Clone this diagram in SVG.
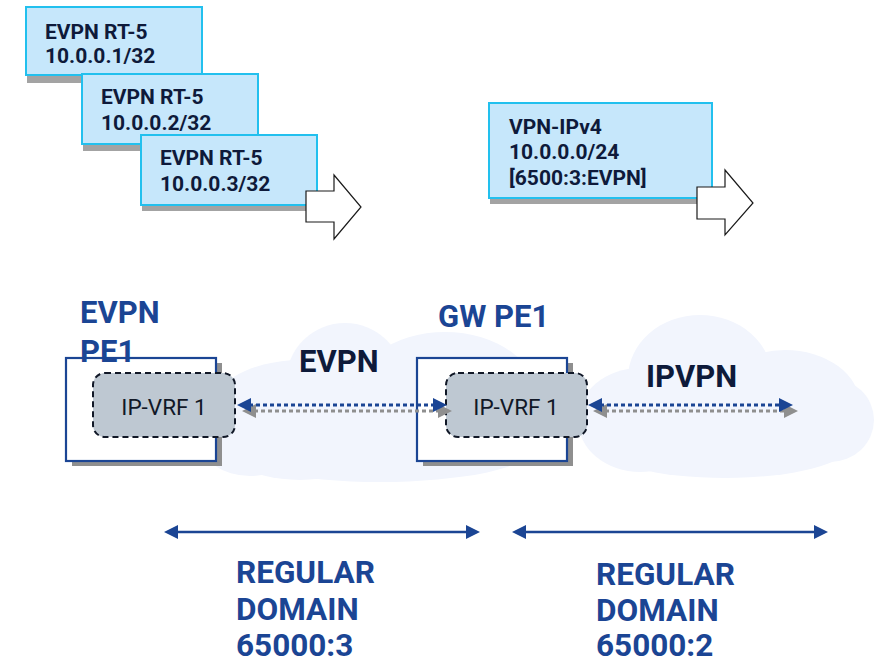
<svg xmlns="http://www.w3.org/2000/svg" width="877" height="663" viewBox="0 0 877 663">
<defs>
<style>
.box{fill:#c6e7fb;stroke:#22c0ee;stroke-width:2}
.bshadow{fill:#a3a3a3}
.bt{font-family:Roboto,"Liberation Sans",sans-serif;font-weight:bold;font-size:21px;fill:#0e1a3a}
.blk{fill:#ffffff;stroke:#1a1a1a;stroke-width:1.2}
.pe{fill:#ffffff;stroke:#1b4594;stroke-width:2.2}
.peshadow{fill:#8f8f8f}
.vrf{fill:#bec8d2;stroke:#111827;stroke-width:2;stroke-dasharray:6,4}
.vt{font-family:Roboto,"Liberation Sans",sans-serif;font-size:22.5px;fill:#111827}
.lbl{font-family:Roboto,"Liberation Sans",sans-serif;font-weight:bold;font-size:31px;fill:#1b4594}
.dom{font-family:Roboto,"Liberation Sans",sans-serif;font-weight:bold;font-size:31.5px;fill:#1b4594}
.prot{font-family:Roboto,"Liberation Sans",sans-serif;font-weight:bold;font-size:31px;fill:#0e1a3a}
.cloud{fill:#f2f5fd}
.dl{stroke:#1b4594;stroke-width:3;stroke-dasharray:4,3;fill:none}
.ds{stroke:#8f8f8f;stroke-width:3;stroke-dasharray:4,3;fill:none}
.ah{fill:#1b4594}
.ahs{fill:#8f8f8f}
.sl{stroke:#1b4594;stroke-width:2.5;fill:none}
</style>
</defs>
<rect width="877" height="663" fill="#ffffff"/>

<g id="clouds">
<ellipse class="cloud" cx="300" cy="420" rx="95" ry="60"/>
<circle class="cloud" cx="345" cy="382" r="59"/>
<ellipse class="cloud" cx="445" cy="402" rx="95" ry="70"/>
<ellipse class="cloud" cx="380" cy="450" rx="150" ry="32"/>
<ellipse class="cloud" cx="250" cy="440" rx="50" ry="36"/>
<ellipse class="cloud" cx="700" cy="378" rx="72" ry="63"/>
<ellipse class="cloud" cx="785" cy="405" rx="75" ry="55"/>
<ellipse class="cloud" cx="640" cy="420" rx="62" ry="52"/>
<ellipse class="cloud" cx="830" cy="420" rx="44" ry="42"/>
<ellipse class="cloud" cx="725" cy="445" rx="125" ry="33"/>
</g>

<g id="rt5-1">
<rect class="bshadow" x="27" y="13" width="176" height="70"/>
<rect class="box" x="26" y="7" width="176" height="68"/>
<text class="bt" x="45" y="39">EVPN RT-5</text>
<text class="bt" x="45" y="63">10.0.0.1/32</text>
</g>
<g id="rt5-2">
<rect class="bshadow" x="83" y="81" width="176" height="70"/>
<rect class="box" x="82" y="74" width="176" height="70"/>
<text class="bt" x="101" y="104">EVPN RT-5</text>
<text class="bt" x="101" y="130">10.0.0.2/32</text>
</g>
<g id="rt5-3">
<rect class="bshadow" x="142" y="141" width="176" height="70"/>
<rect class="box" x="141" y="135" width="176" height="70"/>
<text class="bt" x="160" y="165">EVPN RT-5</text>
<text class="bt" x="160" y="191">10.0.0.3/32</text>
</g>
<g id="arrow-1">
<polygon class="blk" points="306,191 334,191 334,175 361,207 334,239 334,222 306,222"/>
</g>

<g id="vpn-ipv4">
<rect class="bshadow" x="490" y="109" width="223" height="95"/>
<rect class="box" x="489" y="103" width="223" height="95"/>
<text class="bt" x="509" y="134">VPN-IPv4</text>
<text class="bt" x="509" y="159">10.0.0.0/24</text>
<text class="bt" x="509" y="185">[6500:3:EVPN]</text>
</g>
<g id="arrow-2">
<polygon class="blk" points="697,187 725,187 725,170 753,203 725,235 725,219 697,219"/>
</g>

<g id="evpn-pe1">
<rect class="peshadow" x="72" y="363" width="150" height="103"/>
<rect class="pe" x="66" y="358" width="150" height="103"/>
<text class="lbl" x="80" y="323">EVPN</text>
<text class="lbl" x="80" y="362">PE1</text>
<rect class="vrf" x="93" y="373" width="142" height="64" rx="12"/>
<text class="vt" x="164" y="415" text-anchor="middle">IP-VRF 1</text>
</g>

<g id="gw-pe1">
<rect class="peshadow" x="423" y="363" width="150" height="103"/>
<rect class="pe" x="417" y="358" width="150" height="103"/>
<text class="lbl" x="438" y="327">GW PE1</text>
<rect class="vrf" x="446" y="373" width="141" height="64" rx="12"/>
<text class="vt" x="516" y="415" text-anchor="middle">IP-VRF 1</text>
</g>

<g id="labels">
<text class="prot" x="299" y="372">EVPN</text>
<text class="prot" x="646" y="387" font-size="32">IPVPN</text>
<text class="dom" x="236" y="583">REGULAR</text>
<text class="dom" x="236" y="620">DOMAIN</text>
<text class="dom" x="236" y="656">65000:3</text>
<text class="dom" x="596" y="585">REGULAR</text>
<text class="dom" x="596" y="621">DOMAIN</text>
<text class="dom" x="596" y="656">65000:2</text>
</g>

<g id="connectors">
<line class="ds" x1="254" y1="411" x2="438" y2="411"/>
<polygon class="ahs" points="242,411 256,404 256,418"/>
<polygon class="ahs" points="452,411 438,404 438,418"/>
<line class="dl" x1="249" y1="405" x2="435" y2="405"/>
<polygon class="ah" points="237,405 251,398 251,412"/>
<polygon class="ah" points="447,405 433,398 433,412"/>

<line class="ds" x1="605" y1="411" x2="784" y2="411"/>
<polygon class="ahs" points="593,411 607,404 607,418"/>
<polygon class="ahs" points="798,411 784,404 784,418"/>
<line class="dl" x1="600" y1="405" x2="781" y2="405"/>
<polygon class="ah" points="588,405 602,398 602,412"/>
<polygon class="ah" points="793,405 779,398 779,412"/>

<line class="sl" x1="176" y1="532" x2="468" y2="532"/>
<polygon class="ah" points="164,532 178,525 178,539"/>
<polygon class="ah" points="480,532 466,525 466,539"/>
<line class="sl" x1="524" y1="532" x2="816" y2="532"/>
<polygon class="ah" points="512,532 526,525 526,539"/>
<polygon class="ah" points="828,532 814,525 814,539"/>
</g>
</svg>
